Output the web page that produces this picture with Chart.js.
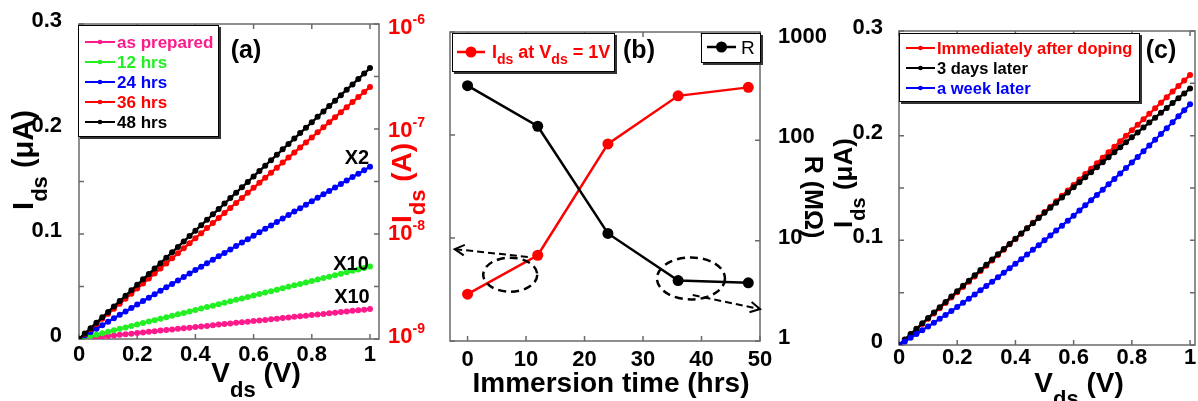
<!DOCTYPE html>
<html>
<head>
<meta charset="utf-8">
<script src="https://cdn.jsdelivr.net/npm/chart.js"></script>
<style>
  html, body { margin: 0; padding: 0; background: #fff; }
  #wrap { position: relative; width: 1198px; height: 401px; overflow: hidden; }
  canvas { position: absolute; top: 0; }
</style>
</head>
<body>
<div id="wrap">
  <canvas id="chartA" width="385" height="401" style="left:0px"></canvas>
  <canvas id="chartB" width="455" height="401" style="left:375px"></canvas>
  <canvas id="chartC" width="368" height="401" style="left:830px"></canvas>
</div>
<script>
// ---- data ----
const vds = [0, 0.02, 0.04, 0.06, 0.08, 0.1, 0.12, 0.14, 0.16, 0.18,
  0.2, 0.22, 0.24, 0.26, 0.28, 0.3, 0.32, 0.34, 0.36, 0.38,
  0.4, 0.42, 0.44, 0.46, 0.48, 0.5, 0.52, 0.54, 0.56, 0.58,
  0.6, 0.62, 0.64, 0.66, 0.68, 0.7, 0.72, 0.74, 0.76, 0.78,
  0.8, 0.82, 0.84, 0.86, 0.88, 0.9, 0.92, 0.94, 0.96, 0.98, 1];

// (a) Ids (uA) after immersion
const asPrepared = [0, .0006, .0011, .0017, .0023, .0029, .0034, .0040, .0046, .0051,
  .0057, .0063, .0068, .0074, .0080, .0086, .0091, .0097, .0103, .0108,
  .0114, .0120, .0125, .0131, .0137, .0143, .0148, .0154, .0160, .0165,
  .0171, .0177, .0182, .0188, .0194, .0200, .0205, .0211, .0217, .0222,
  .0228, .0234, .0239, .0245, .0251, .0257, .0262, .0268, .0274, .0279, .0285];
const hrs12 = [0, .0014, .0028, .0041, .0055, .0069, .0083, .0097, .0110, .0124,
  .0138, .0152, .0166, .0179, .0193, .0207, .0221, .0235, .0248, .0262,
  .0276, .0290, .0304, .0317, .0331, .0345, .0359, .0373, .0386, .0400,
  .0414, .0428, .0442, .0455, .0469, .0483, .0497, .0511, .0524, .0538,
  .0552, .0566, .0580, .0593, .0607, .0621, .0635, .0649, .0662, .0676, .0690];
const hrs24 = [0, .0033, .0066, .0098, .0131, .0164, .0197, .0230, .0262, .0295,
  .0328, .0361, .0394, .0426, .0459, .0492, .0525, .0558, .0590, .0623,
  .0656, .0689, .0722, .0754, .0787, .0820, .0853, .0886, .0918, .0951,
  .0984, .1017, .1050, .1082, .1115, .1148, .1181, .1214, .1246, .1279,
  .1312, .1345, .1378, .1410, .1443, .1476, .1509, .1542, .1574, .1607, .1640];
const hrs36 = [0, .0048, .0096, .0144, .0192, .0240, .0288, .0336, .0384, .0432,
  .0480, .0528, .0576, .0624, .0672, .0720, .0768, .0816, .0864, .0912,
  .0960, .1008, .1056, .1104, .1152, .1200, .1248, .1296, .1344, .1392,
  .1440, .1488, .1536, .1584, .1632, .1680, .1728, .1776, .1824, .1872,
  .1920, .1968, .2016, .2064, .2112, .2160, .2208, .2256, .2304, .2352, .2400];
const hrs48 = [0, .0052, .0103, .0155, .0206, .0258, .0310, .0361, .0413, .0464,
  .0516, .0568, .0619, .0671, .0722, .0774, .0826, .0877, .0929, .0980,
  .1032, .1084, .1135, .1187, .1238, .1290, .1342, .1393, .1445, .1496,
  .1548, .1600, .1651, .1703, .1754, .1806, .1858, .1909, .1961, .2012,
  .2064, .2116, .2167, .2219, .2270, .2322, .2374, .2425, .2477, .2528, .2580];

// (b) Ids at Vds = 1V and resistance vs immersion time
const immersionHrs = [0, 12, 24, 36, 48];
const idsAt1V = [2.85e-9, 6.8e-9, 8.2e-8, 2.4e-7, 2.9e-7];
const resistance = [350, 138, 11.8, 4.0, 3.8];

// (c) stability after doping
const immediately = [0, .0050, .0100, .0150, .0201, .0251, .0301, .0352, .0402, .0453,
  .0503, .0554, .0605, .0655, .0706, .0757, .0808, .0859, .0910, .0962,
  .1013, .1064, .1115, .1167, .1218, .1270, .1322, .1373, .1425, .1477,
  .1529, .1581, .1633, .1685, .1737, .1789, .1841, .1894, .1946, .1999,
  .2051, .2104, .2156, .2209, .2262, .2315, .2368, .2421, .2474, .2527, .2580];
const days3 = [0, .0052, .0104, .0155, .0207, .0259, .0310, .0361, .0412, .0463,
  .0514, .0565, .0615, .0666, .0716, .0767, .0817, .0867, .0917, .0966,
  .1016, .1066, .1115, .1164, .1213, .1263, .1311, .1360, .1409, .1458,
  .1506, .1554, .1603, .1651, .1699, .1747, .1794, .1842, .1889, .1937,
  .1984, .2031, .2078, .2125, .2172, .2219, .2265, .2311, .2358, .2404, .2450];
const week1 = [0, .0034, .0069, .0104, .0140, .0176, .0213, .0250, .0287, .0325,
  .0364, .0403, .0443, .0483, .0523, .0564, .0605, .0647, .0690, .0733,
  .0776, .0820, .0864, .0909, .0954, .1000, .1046, .1093, .1140, .1188,
  .1236, .1285, .1334, .1383, .1433, .1484, .1535, .1587, .1639, .1691,
  .1744, .1797, .1851, .1906, .1961, .2016, .2072, .2128, .2185, .2242, .2300];

// ticks
const vTickVals = [0, 0.2, 0.4, 0.6, 0.8, 1];
const vTickLabels = ['0', '0.2', '0.4', '0.6', '0.8', '1'];
const iTickVals = [0, 0.05, 0.1, 0.15, 0.2, 0.25, 0.3];
const iTickLabels = ['0', '', '0.1', '', '0.2', '', '0.3'];
const hrTickVals = [0, 10, 20, 30, 40, 50];
const idsTickVals = [1e-9, 1e-8, 1e-7, 1e-6];
const idsTickLabels = ['10^{-9}', '10^{-8}', '10^{-7}', '10^{-6}'];
const resTickVals = [1, 10, 100, 1000];
const resTickLabels = ['1', '10', '100', '1000'];

// ---- helpers ----
const FONT = 'Arial, "Liberation Sans", Helvetica, sans-serif';
const RED = '#ff0000', PINK = '#ff1a8c', GREEN = '#22f022', BLUE = '#0000ff';

function pts(xs, ys) { return xs.map((x, i) => ({ x: x, y: ys[i] })); }
function fixTicks(vals) { return s => { s.ticks = vals.map(v => ({ value: v })); }; }
function bold(size) { return { family: FONT, size: size, weight: 'bold' }; }

// tiny tex: _{sub} and ^{sup}
function parseTex(s) {
  const out = [];
  let buf = '', i = 0;
  while (i < s.length) {
    const c = s[i];
    if ((c === '_' || c === '^') && s[i + 1] === '{') {
      if (buf) { out.push({ t: buf, m: 0 }); buf = ''; }
      const j = s.indexOf('}', i);
      out.push({ t: s.slice(i + 2, j), m: c === '_' ? 1 : -1 });
      i = j + 1;
    } else { buf += c; i++; }
  }
  if (buf) out.push({ t: buf, m: 0 });
  return out;
}

function drawTex(ctx, tex, x, y, o) {
  const size = o.size, small = o.small || size * 0.75, w = o.weight || 'bold';
  const segs = parseTex(tex);
  ctx.save();
  ctx.translate(x, y);
  if (o.rot) ctx.rotate(o.rot);
  let total = 0;
  segs.forEach(g => {
    ctx.font = w + ' ' + (g.m ? small : size) + 'px ' + FONT;
    g.w = ctx.measureText(g.t).width;
    total += g.w;
  });
  let cx = o.align === 'center' ? -total / 2 : o.align === 'right' ? -total : 0;
  ctx.fillStyle = o.color || '#000';
  ctx.textAlign = 'left';
  ctx.textBaseline = 'alphabetic';
  segs.forEach(g => {
    ctx.font = w + ' ' + (g.m ? small : size) + 'px ' + FONT;
    const dy = g.m === 1 ? (o.subDy != null ? o.subDy : size * 0.35)
      : g.m === -1 ? -(o.supDy != null ? o.supDy : size * 0.45) : 0;
    ctx.fillText(g.t, cx, dy);
    cx += g.w;
  });
  ctx.restore();
}

function drawFrame(chart, leftId, rightId) {
  const ctx = chart.ctx, a = chart.chartArea, L = 5;
  const sx = chart.scales.x, sl = chart.scales[leftId], sr = chart.scales[rightId];
  ctx.save();
  ctx.strokeStyle = '#6a6a6a';
  ctx.lineWidth = 1.5;
  ctx.strokeRect(a.left, a.top, a.right - a.left, a.bottom - a.top);
  ctx.beginPath();
  sx.ticks.forEach(t => {
    const p = sx.getPixelForValue(t.value);
    ctx.moveTo(p, a.bottom); ctx.lineTo(p, a.bottom - L);
    ctx.moveTo(p, a.top); ctx.lineTo(p, a.top + L);
  });
  sl.ticks.forEach(t => {
    const p = sl.getPixelForValue(t.value);
    ctx.moveTo(a.left, p); ctx.lineTo(a.left + L, p);
  });
  sr.ticks.forEach(t => {
    const p = sr.getPixelForValue(t.value);
    ctx.moveTo(a.right, p); ctx.lineTo(a.right - L, p);
  });
  ctx.stroke();
  ctx.restore();
}

function drawLegend(chart, L) {
  const ctx = chart.ctx, ox = chart.canvas.offsetLeft;
  const x = L.x - ox;
  ctx.save();
  ctx.fillStyle = '#333';
  ctx.fillRect(x + 2, L.y + 2, L.w, L.h);
  ctx.fillStyle = '#fff';
  ctx.fillRect(x, L.y, L.w, L.h);
  ctx.strokeStyle = '#000';
  ctx.lineWidth = 1;
  ctx.strokeRect(x + 0.5, L.y + 0.5, L.w - 1, L.h - 1);
  L.items.forEach((di, k) => {
    const ds = chart.data.datasets[di];
    const yy = L.row0 + k * (L.step || 0);
    ctx.strokeStyle = ds.borderColor;
    ctx.lineWidth = L.lw;
    ctx.beginPath();
    ctx.moveTo(L.lx0 - ox, yy); ctx.lineTo(L.lx1 - ox, yy);
    ctx.stroke();
    ctx.fillStyle = ds.borderColor;
    ctx.beginPath();
    ctx.arc((L.lx0 + L.lx1) / 2 - ox, yy, L.r, 0, Math.PI * 2);
    ctx.fill();
    drawTex(ctx, ds.label, L.tx - ox, yy + L.size * 0.36,
      { size: L.size, small: L.small, subDy: L.subDy, weight: L.weight, color: L.textColor || ds.borderColor });
  });
  ctx.restore();
}

function ivSeries(label, ys, color, order) {
  return {
    label: label, data: pts(vds, ys), borderColor: color, backgroundColor: color,
    borderWidth: 2.4, pointRadius: 3, pointBorderWidth: 0, pointHoverRadius: 0, order: order
  };
}

function baseOptions(pad) {
  return {
    responsive: false,
    animation: false,
    events: [],
    layout: { padding: pad },
    plugins: { legend: { display: false }, tooltip: { enabled: false } }
  };
}

function linAxis(o) {
  return Object.assign({
    type: 'linear',
    grid: { display: false },
    border: { display: false },
  }, o);
}

// ---- panel (a) ----
const decoA = {
  id: 'decoA',
  beforeDatasetsDraw(chart) { drawFrame(chart, 'y', 'y'); },
  afterDatasetsDraw(chart) {
    const ctx = chart.ctx, sx = chart.scales.x, sy = chart.scales.y;
    drawLegend(chart, { x: 78, y: 25, w: 141, h: 112, items: [0, 1, 2, 3, 4], row0: 42, step: 20,
      lx0: 85, lx1: 115, tx: 117, size: 17, lw: 2, r: 2.3 });
    drawTex(ctx, '(a)', 246, 58, { size: 25, align: 'center' });
    drawTex(ctx, 'X2', sx.getPixelForValue(0.955), sy.getPixelForValue(0.173) + 7, { size: 20, align: 'center' });
    drawTex(ctx, 'X10', sx.getPixelForValue(0.935), sy.getPixelForValue(0.0724) + 7, { size: 20, align: 'center' });
    drawTex(ctx, 'X10', sx.getPixelForValue(0.938), sy.getPixelForValue(0.041) + 7, { size: 20, align: 'center' });
    drawTex(ctx, 'V_{ds} (V)', 256, 382, { size: 28, small: 22, subDy: 15, align: 'center' });
    drawTex(ctx, 'I_{ds} (μA)', 33, 160, { size: 29, small: 22, subDy: 14, align: 'center', rot: -Math.PI / 2 });
  }
};

new Chart(document.getElementById('chartA'), {
  type: 'line',
  data: {
    datasets: [
      ivSeries('as prepared', asPrepared, PINK, 5),
      ivSeries('12 hrs', hrs12, GREEN, 4),
      ivSeries('24 hrs', hrs24, BLUE, 3),
      ivSeries('36 hrs', hrs36, RED, 2),
      ivSeries('48 hrs', hrs48, '#000000', 1)
    ]
  },
  options: Object.assign(baseOptions({ top: 24, right: 6, left: 0, bottom: 0 }), {
    scales: {
      x: linAxis({
        min: 0, max: 1.031,
        afterBuildTicks: fixTicks(vTickVals),
        afterFit: s => { s.height = 62; },
        ticks: { font: bold(22), color: '#000', padding: -5, maxRotation: 0, autoSkip: false,
          callback: (v, i) => vTickLabels[i] }
      }),
      y: linAxis({
        min: 0, max: 0.3,
        afterBuildTicks: fixTicks(iTickVals),
        afterFit: s => { s.width = 79; },
        ticks: { font: bold(22), color: '#000', padding: 9, labelOffset: -3, autoSkip: false,
          callback: (v, i) => iTickLabels[i] }
      })
    }
  }),
  plugins: [decoA]
});

// ---- panel (b) ----
const notesB = {
  leftRing: { x: 7.3, y: 4.4e-9, rx: 27, ry: 17 },
  leftArrow: { x0: 10.3, y0: 6.55e-9, x1: -2.2, y1: 7.8e-9 },
  rightRing: { x: 38.2, y: 4.2, rx: 34, ry: 21 },
  rightArrow: { x0: 38.5, y0: 2.87, x1: 50, y1: 2.08 }
};

function dashedArrow(ctx, x0, y0, x1, y1) {
  ctx.setLineDash([7, 4]);
  ctx.beginPath(); ctx.moveTo(x0, y0); ctx.lineTo(x1, y1); ctx.stroke();
  ctx.setLineDash([]);
  const ang = Math.atan2(y1 - y0, x1 - x0), h = 11, sp = 0.5;
  ctx.beginPath();
  ctx.moveTo(x1 - h * Math.cos(ang - sp), y1 - h * Math.sin(ang - sp));
  ctx.lineTo(x1, y1);
  ctx.lineTo(x1 - h * Math.cos(ang + sp), y1 - h * Math.sin(ang + sp));
  ctx.stroke();
}

const decoB = {
  id: 'decoB',
  beforeDatasetsDraw(chart) { drawFrame(chart, 'y', 'y2'); },
  afterDatasetsDraw(chart) {
    const ctx = chart.ctx, ox = chart.canvas.offsetLeft;
    const sx = chart.scales.x, sl = chart.scales.y, sr = chart.scales.y2;
    // left log tick labels with superscripts
    sl.ticks.forEach((t, i) => {
      drawTex(ctx, idsTickLabels[i], 425 - ox, sl.getPixelForValue(t.value) + 2,
        { size: 22, small: 14, supDy: 10, color: RED, align: 'right' });
    });
    // dashed rings and arrows
    ctx.save();
    ctx.strokeStyle = '#000';
    ctx.lineWidth = 2.5;
    const n = notesB;
    ctx.setLineDash([8, 5]);
    ctx.beginPath();
    ctx.ellipse(sx.getPixelForValue(n.leftRing.x), sl.getPixelForValue(n.leftRing.y), n.leftRing.rx, n.leftRing.ry, 0, 0, Math.PI * 2);
    ctx.stroke();
    ctx.beginPath();
    ctx.ellipse(sx.getPixelForValue(n.rightRing.x), sr.getPixelForValue(n.rightRing.y), n.rightRing.rx, n.rightRing.ry, 0, 0, Math.PI * 2);
    ctx.stroke();
    ctx.lineWidth = 2;
    dashedArrow(ctx, sx.getPixelForValue(n.leftArrow.x0), sl.getPixelForValue(n.leftArrow.y0),
      sx.getPixelForValue(n.leftArrow.x1), sl.getPixelForValue(n.leftArrow.y1));
    dashedArrow(ctx, sx.getPixelForValue(n.rightArrow.x0), sr.getPixelForValue(n.rightArrow.y0),
      sx.getPixelForValue(n.rightArrow.x1), sr.getPixelForValue(n.rightArrow.y1));
    ctx.restore();

    drawLegend(chart, { x: 452, y: 33, w: 163, h: 39, items: [0], row0: 52,
      lx0: 457, lx1: 485, tx: 492, size: 18, small: 14, subDy: 6, lw: 2.5, r: 5.5 });
    drawLegend(chart, { x: 701, y: 33, w: 60, h: 30, items: [1], row0: 47,
      lx0: 707, lx1: 736, tx: 741, size: 19, weight: 'normal', lw: 2.5, r: 5.5 });
    drawTex(ctx, '(b)', 639 - ox, 58, { size: 25, align: 'center' });
    drawTex(ctx, 'Immersion time (hrs)', 611 - ox, 392, { size: 28, align: 'center' });
    drawTex(ctx, 'I_{ds} (A)', 411 - ox, 183, { size: 28, small: 22, subDy: 14, align: 'center', color: RED, rot: -Math.PI / 2 });
    drawTex(ctx, 'R (MΩ)', 805 - ox, 197, { size: 25, align: 'center', rot: Math.PI / 2 });
  }
};

new Chart(document.getElementById('chartB'), {
  type: 'line',
  data: {
    datasets: [
      {
        label: 'I_{ds} at V_{ds} = 1V', data: pts(immersionHrs, idsAt1V), yAxisID: 'y',
        borderColor: RED, backgroundColor: RED, borderWidth: 2.5, pointRadius: 5.5,
        pointBorderWidth: 0, pointHoverRadius: 0, order: 2
      },
      {
        label: 'R', data: pts(immersionHrs, resistance), yAxisID: 'y2',
        borderColor: '#000000', backgroundColor: '#000000', borderWidth: 2.5, pointRadius: 5.5,
        pointBorderWidth: 0, pointHoverRadius: 0, order: 1
      }
    ]
  },
  options: Object.assign(baseOptions({ top: 32, right: 0, left: 0, bottom: 0 }), {
    scales: {
      x: linAxis({
        min: -3, max: 50,
        afterBuildTicks: fixTicks(hrTickVals),
        afterFit: s => { s.height = 60; },
        ticks: { font: bold(22), color: '#000', padding: -2, maxRotation: 0, autoSkip: false }
      }),
      y: {
        type: 'logarithmic', position: 'left', min: 1e-9, max: 1e-6,
        grid: { display: false }, border: { display: false },
        afterBuildTicks: fixTicks(idsTickVals),
        afterFit: s => { s.width = 75; },
        ticks: { font: bold(22), autoSkip: false, callback: () => '' }
      },
      y2: {
        type: 'logarithmic', position: 'right', min: 1, max: 1200,
        grid: { display: false }, border: { display: false },
        afterBuildTicks: fixTicks(resTickVals),
        afterFit: s => { s.width = 70; },
        ticks: { font: bold(22), color: '#000', padding: 10, labelOffset: -3, autoSkip: false,
          callback: (v, i) => resTickLabels[i] }
      }
    }
  }),
  plugins: [decoB]
});

// ---- panel (c) ----
const decoC = {
  id: 'decoC',
  beforeDatasetsDraw(chart) { drawFrame(chart, 'y', 'y'); },
  afterDatasetsDraw(chart) {
    const ctx = chart.ctx, ox = chart.canvas.offsetLeft;
    drawLegend(chart, { x: 899, y: 33, w: 241, h: 69, items: [0, 1, 2], row0: 48, step: 20,
      lx0: 906, lx1: 935, tx: 937, size: 16.5, lw: 2, r: 2.3 });
    drawTex(ctx, '(c)', 1161 - ox, 58, { size: 25, align: 'center' });
    drawTex(ctx, 'V_{ds} (V)', 1079 - ox, 392, { size: 28, small: 22, subDy: 14, align: 'center' });
    drawTex(ctx, 'I_{ds} (μA)', 852 - ox, 183, { size: 26, small: 20, subDy: 13, align: 'center', rot: -Math.PI / 2 });
  }
};

new Chart(document.getElementById('chartC'), {
  type: 'line',
  data: {
    datasets: [
      ivSeries('Immediately after doping', immediately, RED, 3),
      ivSeries('3 days later', days3, '#000000', 2),
      ivSeries('a week later', week1, BLUE, 1)
    ]
  },
  options: Object.assign(baseOptions({ top: 31, right: 2, left: 0, bottom: 0 }), {
    scales: {
      x: linAxis({
        min: 0, max: 1.017,
        afterBuildTicks: fixTicks(vTickVals),
        afterFit: s => { s.height = 56; },
        ticks: { font: bold(22), color: '#000', padding: -8, maxRotation: 0, autoSkip: false,
          callback: (v, i) => vTickLabels[i] }
      }),
      y: linAxis({
        min: 0, max: 0.3,
        afterBuildTicks: fixTicks(iTickVals),
        afterFit: s => { s.width = 69; },
        ticks: { font: bold(22), color: '#000', padding: 8, labelOffset: -3, autoSkip: false,
          callback: (v, i) => iTickLabels[i] }
      })
    }
  }),
  plugins: [decoC]
});
</script>
</body>
</html>
